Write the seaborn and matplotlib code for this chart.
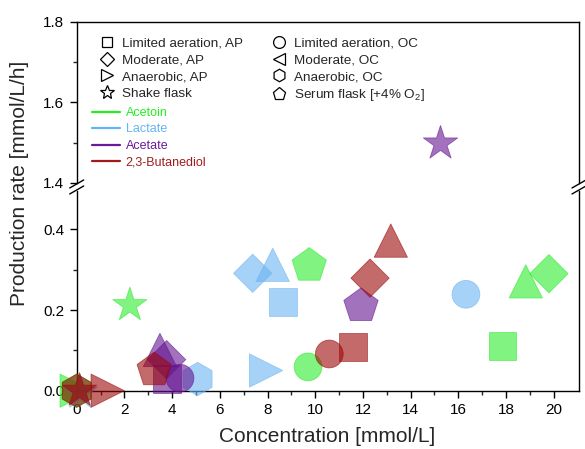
import matplotlib
matplotlib.use("Agg")
import matplotlib.pyplot as plt
from matplotlib.lines import Line2D
import numpy as np
import pandas as pd
import seaborn as sns

# conditions, in the order the values below are listed
conditions = ["Limited aeration, AP", "Moderate, AP", "Anaerobic, AP", "Shake flask",
              "Limited aeration, OC", "Moderate, OC", "Anaerobic, OC", "Serum flask [+4% O$_2$]"]
products = ["Acetoin", "Lactate", "Acetate", "2,3-Butanediol"]

acetoin_conc = [17.85, 19.8, 0.0, 2.23, 9.7, 18.83, 0.0, 9.75]
acetoin_rate = [0.11, 0.29, 0.0, 0.212, 0.059, 0.271, 0.0, 0.31]

lactate_conc = [8.65, 7.38, 7.94, 0.15, 16.32, 8.22, 5.07, np.nan]
lactate_rate = [0.219, 0.291, 0.05, -0.005, 0.239, 0.312, 0.029, np.nan]

acetate_conc = [3.79, 3.77, np.nan, 15.25, 4.33, 3.49, np.nan, 11.92]
acetate_rate = [0.029, 0.077, np.nan, 1.50, 0.031, 0.101, np.nan, 0.21]

butanediol_conc = [11.57, 12.3, 1.3, 0.12, 10.59, 13.17, 0.0, 3.25]
butanediol_rate = [0.109, 0.279, 0.0, 0.0, 0.091, 0.372, 0.0, 0.051]

colors = {"Acetoin": "#2beb2b", "Lactate": "#6bb4f3",
          "Acetate": "#641490", "2,3-Butanediol": "#9b0808"}
line_colors = {"Acetoin": "#22ee22", "Lactate": "#66b3f5",
               "Acetate": "#6a1b9a", "2,3-Butanediol": "#a01c1c"}
plot_markers = dict(zip(conditions, ["s", "D", ">", "*", "o", "^", "h", "p"]))
legend_markers = dict(zip(conditions, ["s", "D", ">", "*", "o", "<", "h", "p"]))
marker_pt = dict(zip(conditions, [20, 19.5, 24, 26, 20, 24, 24, 26]))
legend_ms = dict(zip(conditions, [7.5, 7.5, 8.5, 10, 8.5, 8.5, 9, 9.5]))

frames = []
for prod, xs, ys in [("Acetoin", acetoin_conc, acetoin_rate),
                     ("Lactate", lactate_conc, lactate_rate),
                     ("Acetate", acetate_conc, acetate_rate),
                     ("2,3-Butanediol", butanediol_conc, butanediol_rate)]:
    frames.append(pd.DataFrame({"conc": xs, "rate": ys, "product": prod, "condition": conditions}))
df = pd.concat(frames, ignore_index=True).dropna()

sns.set_style("ticks")
plt.rcParams["font.family"] = ["Liberation Sans", "DejaVu Sans"]
plt.rcParams["mathtext.fontset"] = "custom"
plt.rcParams["mathtext.rm"] = "Liberation Sans"

W, H = 585, 449
fig = plt.figure(figsize=(W / 100, H / 100), dpi=100)

x0, x1 = 76.7, 579
y_zero, px_per_unit = 390.7, 403.5
low_top = 0.495
up_lo, up_hi = 1.4, 1.8
y_up_bottom = 183.0
y_up_top = y_up_bottom - (up_hi - up_lo) * px_per_unit

ax_lo = fig.add_axes([x0 / W, 1 - y_zero / H, (x1 - x0) / W, low_top * px_per_unit / H])
ax_up = fig.add_axes([x0 / W, 1 - y_up_bottom / H, (x1 - x0) / W, (y_up_bottom - y_up_top) / H])

common = dict(x="conc", y="rate", hue="product", style="condition", size="condition",
              palette=colors, hue_order=products, markers=plot_markers, sizes={k: v ** 2 for k, v in marker_pt.items()},
              style_order=conditions, size_order=conditions, alpha=0.6, edgecolor="face",
              linewidth=0.6, legend=False, zorder=3)

sns.scatterplot(data=df[df["rate"] < 1], ax=ax_lo, clip_on=False, **common)
sns.scatterplot(data=df[df["rate"] >= 1], ax=ax_up, **common)

xmax = (x1 - x0) / 23.85
for ax in (ax_lo, ax_up):
    ax.set_xlim(0, xmax)
    ax.set_xlabel("")
    ax.set_ylabel("")
    for s in ax.spines.values():
        s.set_linewidth(1.0)
        s.set_color("black")
    ax.tick_params(axis="both", which="major", direction="out", length=5, width=1,
                   labelsize=11, pad=4, colors="black")
    ax.tick_params(axis="both", which="minor", direction="out", length=3, width=1)

ax_lo.set_ylim(0, low_top)
ax_lo.set_yticks([0.0, 0.2, 0.4])
ax_lo.set_yticklabels(["0.0", "0.2", "0.4"])
ax_lo.set_yticks([0.1, 0.3], minor=True)
ax_lo.set_xticks(np.arange(0, 21, 2))
ax_lo.set_xticks(np.arange(1, 21, 2), minor=True)
ax_lo.spines["top"].set_visible(False)

ax_up.set_ylim(up_lo, up_hi)
ax_up.set_yticks([1.4, 1.6, 1.8])
ax_up.set_yticklabels(["1.4", "1.6", "1.8"])
ax_up.set_yticks([1.5, 1.7], minor=True)
ax_up.spines["bottom"].set_visible(False)
ax_up.tick_params(axis="x", which="both", bottom=False, labelbottom=False)

# axis break marks
y_mid = (y_up_bottom + y_zero - low_top * px_per_unit) / 2
for xp in (x0, x1):
    for dy in (-3, 3):
        fig.add_artist(Line2D([(xp - 7) / W, (xp + 7) / W],
                              [1 - (y_mid + dy + 4) / H, 1 - (y_mid + dy - 4) / H],
                              color="black", lw=1.0))

fig.text(20 / W, 1 - 183 / H, "Production rate [mmol/L/h]", rotation=90,
         ha="center", va="center", fontsize=15)
fig.text(327 / W, 1 - 437 / H, "Concentration [mmol/L]", ha="center", va="center", fontsize=15)

# marker legend
handles = [Line2D([], [], ls="none", marker=legend_markers[c], ms=legend_ms[c],
                  mfc="none", mec="black", mew=0.9) for c in conditions]
leg1 = ax_up.legend(handles, conditions, ncol=2, loc="upper left",
                    bbox_to_anchor=(100 / W, 1 - 37.5 / H), bbox_transform=fig.transFigure,
                    frameon=False, fontsize=9.7, handlelength=1.0, handletextpad=0.6,
                    columnspacing=2.2, labelspacing=0.31, borderpad=0, borderaxespad=0)
ax_up.add_artist(leg1)

# colour legend
lines = [Line2D([], [], color=line_colors[p], lw=1.6) for p in products]
ax_up.legend(lines, products, loc="upper left",
             bbox_to_anchor=(92 / W, 1 - 107 / H), bbox_transform=fig.transFigure,
             frameon=False, fontsize=9, handlelength=2.2, handletextpad=0.5,
             labelspacing=0.36, borderpad=0, borderaxespad=0, labelcolor="linecolor")

fig.savefig("out.png", dpi=100)
